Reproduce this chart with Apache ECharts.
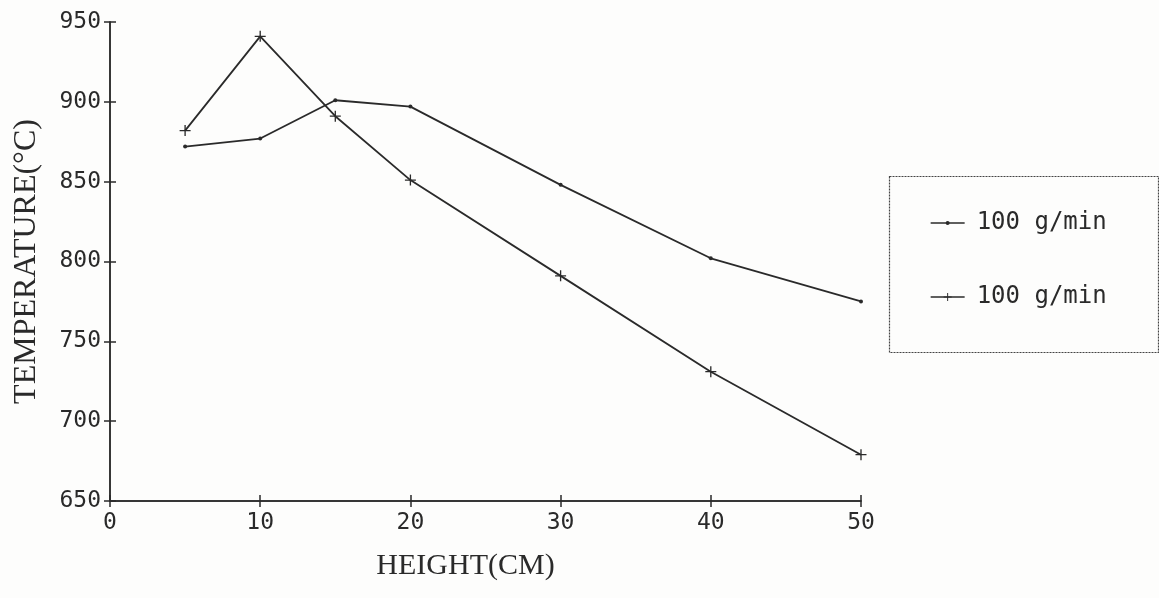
<!DOCTYPE html>
<html>
<head>
<meta charset="utf-8">
<script src="https://cdn.jsdelivr.net/npm/echarts@6/dist/echarts.min.js"></script>
<style>
html,body{margin:0;padding:0;background:#fdfdfc;}
#chart{width:1159px;height:598px;}
</style>
</head>
<body>
<div id="chart"></div>
<script>
const heights = [5, 10, 15, 20, 30, 40, 50];
const seriesNames = ['100 g/min', '100 g/min '];
const tempDots = [872, 877, 901, 897, 848, 802, 775];
const tempPlus = [882, 941, 891, 851, 791, 731, 679];
const xTicks = [0, 10, 20, 30, 40, 50];
const yTicks = [650, 700, 750, 800, 850, 900, 950];

const mono = 'DejaVu Sans Mono';
const ink = '#2a2a2a';
const plusPath = 'path://M4.4,0H5.6V4.4H10V5.6H5.6V10H4.4V5.6H0V4.4H4.4Z';

const chart = echarts.init(document.getElementById('chart'));
const pair = a => heights.map((h, i) => [h, a[i]]);

const gridBox = {left: 110, right: 298, top: 22, bottom: 97};
const legendText = {fontFamily: mono, fontSize: 24, color: ink, lineHeight: 24, padding: [0, 0, 0, 7]};
const axisLineStyle = {show: true, onZero: false, lineStyle: {color: ink, width: 1.5}};

chart.setOption({
  backgroundColor: '#fdfdfc',
  animation: false,
  grid: [Object.assign({}, gridBox), Object.assign({}, gridBox)],
  graphic: [{
    type: 'rect', left: 887, top: 174,
    shape: {width: 269, height: 176},
    style: {fill: 'none', stroke: '#444', lineWidth: 1.2, lineDash: [2, 1]}
  }],
  legend: [{
    orient: 'vertical', left: 930, top: 211, padding: 0,
    itemWidth: 34, itemHeight: 5,
    textStyle: legendText,
    lineStyle: {width: 1.3},
    data: [seriesNames[0]]
  }, {
    orient: 'vertical', left: 930, top: 285, padding: 0,
    itemWidth: 34, itemHeight: 10,
    textStyle: legendText,
    lineStyle: {width: 1.3},
    data: [seriesNames[1]]
  }],
  xAxis: [{
    type: 'value', min: 0, max: 50, interval: 10, gridIndex: 0,
    axisLine: axisLineStyle,
    splitLine: {show: false},
    axisTick: {show: true, length: 6, lineStyle: {color: ink, width: 1.5}},
    axisLabel: {fontFamily: mono, fontSize: 23, color: ink, margin: 11,
      formatter: v => xTicks.includes(v) ? String(v) : ''},
    name: 'HEIGHT(CM)', nameLocation: 'middle', nameGap: 50,
    nameTextStyle: {fontFamily: 'Liberation Serif', fontSize: 30, color: ink, padding: [0, 40, 0, 0]}
  }, {
    type: 'value', min: 0, max: 50, interval: 10, gridIndex: 1, position: 'bottom',
    axisLine: axisLineStyle,
    splitLine: {show: false},
    axisTick: {show: true, inside: true, length: 6, lineStyle: {color: ink, width: 1.5}},
    axisLabel: {show: false}
  }],
  yAxis: [{
    type: 'value', min: 650, max: 950, interval: 50, gridIndex: 0,
    axisLine: axisLineStyle,
    splitLine: {show: false},
    axisTick: {show: true, length: 6, lineStyle: {color: ink, width: 1.5}},
    axisLabel: {fontFamily: mono, fontSize: 23, color: ink, margin: 9,
      formatter: v => yTicks.includes(v) ? String(v) : ''},
    name: 'TEMPERATURE(°C)', nameLocation: 'middle', nameGap: 67, nameRotate: 90,
    nameTextStyle: {fontFamily: 'Liberation Serif', fontSize: 32, color: ink}
  }, {
    type: 'value', min: 650, max: 950, interval: 50, gridIndex: 1, position: 'left',
    axisLine: axisLineStyle,
    splitLine: {show: false},
    axisTick: {show: true, inside: true, length: 6, lineStyle: {color: ink, width: 1.5}},
    axisLabel: {show: false}
  }],
  series: [{
    name: seriesNames[0], type: 'line',
    xAxisIndex: 0, yAxisIndex: 0,
    data: pair(tempDots),
    symbol: 'circle', symbolSize: 4,
    itemStyle: {color: ink},
    lineStyle: {color: ink, width: 1.8}
  }, {
    name: seriesNames[1], type: 'line',
    xAxisIndex: 0, yAxisIndex: 0,
    data: pair(tempPlus),
    symbol: plusPath, symbolSize: 11,
    itemStyle: {color: ink},
    lineStyle: {color: ink, width: 1.8}
  }, {
    name: 'tick-carrier', type: 'line',
    xAxisIndex: 1, yAxisIndex: 1,
    data: pair(tempDots),
    silent: true, symbol: 'none',
    lineStyle: {opacity: 0}
  }]
});
</script>
</body>
</html>
